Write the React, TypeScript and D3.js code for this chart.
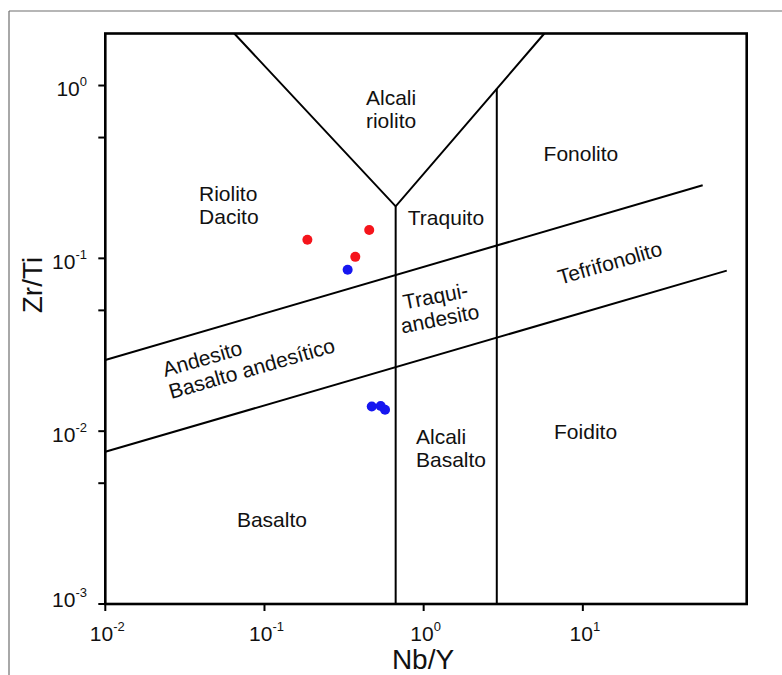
import React from "react";
import * as d3 from "d3";

// ---- data ----
const xDomain = [0.01, 107];
const yDomain = [0.001, 2];

const xTickValues = [0.01, 0.1, 1, 10];
const xTickExponents = ["-2", "-1", "0", "1"];
const yTickValues = [1, 0.1, 0.01, 0.001];
const yTickExponents = ["0", "-1", "-2", "-3"];
const yMinorTicks = [0.5, 0.05, 0.005];

const redNbY = [0.186, 0.455, 0.372];
const redZrTi = [0.128, 0.146, 0.102];
const blueNbY = [0.333, 0.472, 0.537, 0.572];
const blueZrTi = [0.086, 0.0139, 0.014, 0.0133];

// field boundaries [Nb/Y, Zr/Ti]
const vBoundary: [number, number][] = [[0.0646, 2], [0.667, 0.2], [5.73, 2]];
const leftVertical: [number, number][] = [[0.667, 0.001], [0.667, 0.2]];
const rightVertical: [number, number][] = [[2.88, 0.001], [2.88, 0.957]];
const upperDiagonal: [number, number][] = [[0.01, 0.0258], [56.6, 0.265]];
const lowerDiagonal: [number, number][] = [[0.01, 0.0076], [80.2, 0.0849]];

// field names: text lines, anchor in data coords, rotation
const fieldNames = [
  { lines: ["Alcali", "riolito"], nbY: 0.624, zrTi: 0.772, rot: 0, anchor: "middle" },
  { lines: ["Fonolito"], nbY: 9.73, zrTi: 0.366, rot: 0, anchor: "middle" },
  { lines: ["Riolito", "Dacito"], nbY: 0.0388, zrTi: 0.216, rot: 0, anchor: "start" },
  { lines: ["Traquito"], nbY: 1.38, zrTi: 0.155, rot: 0, anchor: "middle" },
  { lines: ["Traqui-", "andesito"], nbY: 1.21, zrTi: 0.055, rot: -11, anchor: "middle" },
  { lines: ["Tefrifonolito"], nbY: 15.2, zrTi: 0.0857, rot: -16, anchor: "middle" },
  { lines: ["Andesito", "Basalto andesítico"], nbY: 0.0237, zrTi: 0.0206, rot: -16, anchor: "start" },
  { lines: ["Alcali", "Basalto"], nbY: 0.895, zrTi: 0.00843, rot: 0, anchor: "start" },
  { lines: ["Foidito"], nbY: 10.4, zrTi: 0.00905, rot: 0, anchor: "middle" },
  { lines: ["Basalto"], nbY: 0.1114, zrTi: 0.00278, rot: 0, anchor: "middle" },
];

const FONT = "'Liberation Sans', Arial, Helvetica, sans-serif";

export default function App() {
  const W = 782;
  const H = 675;
  const left = 105.3, right = 746.7, top = 33.5, bottom = 604;

  const x = d3.scaleLog().domain(xDomain).range([left, right]);
  const y = d3.scaleLog().domain(yDomain).range([bottom, top]);
  const line = d3.line<[number, number]>().x((d) => x(d[0])).y((d) => y(d[1]));

  const boundaries = [vBoundary, leftVertical, rightVertical, upperDiagonal, lowerDiagonal];

  return (
    <svg
      width={W}
      height={H}
      style={{ position: "absolute", left: 0, top: 0, background: "#fff" }}
      fontFamily={FONT}
    >
      <rect x={0} y={0} width={W} height={H} fill="#fff" />
      {/* page edges */}
      <line x1={9} y1={11} x2={W} y2={11} stroke="#6e6e6e" strokeWidth={1.2} />
      <line x1={9} y1={11} x2={9} y2={H} stroke="#6e6e6e" strokeWidth={1.2} />

      {/* boundaries */}
      {boundaries.map((b, i) => (
        <path key={i} d={line(b) || ""} fill="none" stroke="#000" strokeWidth={2} />
      ))}

      {/* field names */}
      {fieldNames.map((f, i) => (
        <g key={i} transform={`translate(${x(f.nbY)},${y(f.zrTi)}) rotate(${f.rot})`}>
          {f.lines.map((t, j) => (
            <text key={j} x={0} y={j * 23} fontSize={21} textAnchor={f.anchor} fill="#111">
              {t}
            </text>
          ))}
        </g>
      ))}

      {/* points */}
      {redNbY.map((v, i) => (
        <circle key={"r" + i} cx={x(v)} cy={y(redZrTi[i])} r={5} fill="#f5141b" />
      ))}
      {blueNbY.map((v, i) => (
        <circle key={"b" + i} cx={x(v)} cy={y(blueZrTi[i])} r={5} fill="#1616f0" />
      ))}

      {/* frame */}
      <rect x={left} y={top} width={right - left} height={bottom - top} fill="none" stroke="#000" strokeWidth={2.6} />

      {/* x ticks */}
      {xTickValues.map((v, i) => (
        <g key={"xt" + i}>
          <line x1={x(v)} x2={x(v)} y1={bottom} y2={bottom + 7} stroke="#000" strokeWidth={2} />
          <text x={x(v) + 2} y={641} fontSize={21} textAnchor="middle" fill="#111">
            10<tspan fontSize={13} dy={-10}>{xTickExponents[i]}</tspan>
          </text>
        </g>
      ))}
      {/* y ticks */}
      {yTickValues.map((v, i) => (
        <g key={"yt" + i}>
          <line x1={left - 7} x2={left} y1={y(v)} y2={y(v)} stroke="#000" strokeWidth={2} />
          <text x={87} y={Math.min(y(v) + 10.5, 607)} fontSize={21} textAnchor="end" fill="#111">
            10<tspan fontSize={13} dy={-10}>{yTickExponents[i]}</tspan>
          </text>
        </g>
      ))}
      {yMinorTicks.map((v, i) => (
        <line key={"ym" + i} x1={left - 7} x2={left} y1={y(v)} y2={y(v)} stroke="#000" strokeWidth={2} />
      ))}

      {/* axis titles */}
      <text x={423} y={669} fontSize={28} textAnchor="middle" fill="#111">Nb/Y</text>
      <text
        transform={`translate(42,285) rotate(-90)`}
        fontSize={28}
        textAnchor="middle"
        fill="#111"
      >
        Zr/Ti
      </text>
    </svg>
  );
}
